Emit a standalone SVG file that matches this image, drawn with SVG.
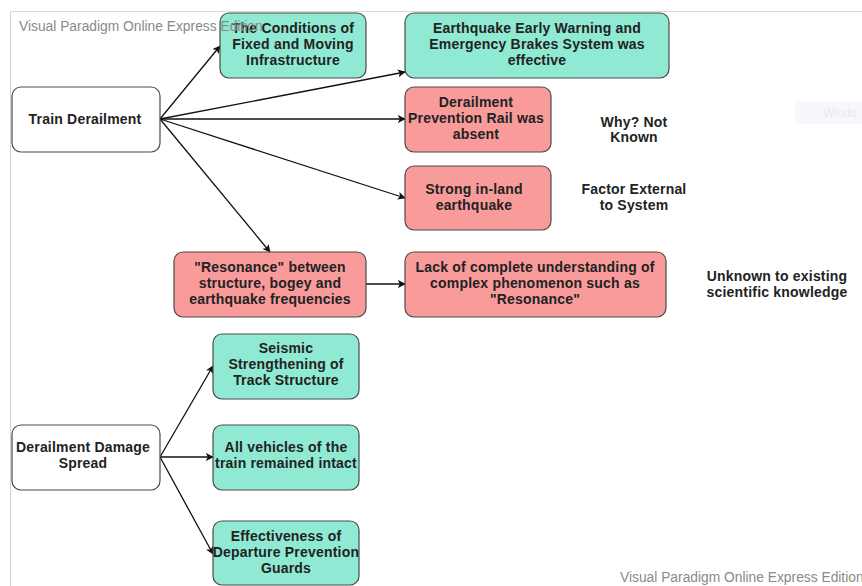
<svg xmlns="http://www.w3.org/2000/svg" width="862" height="586" viewBox="0 0 862 586">
  <style>
    .box { stroke: #4a4a4a; stroke-width: 1.2; }
    .plain { fill: #ffffff; }
    .good { fill: #8fe9d3; }
    .bad { fill: #f99b9b; }
    .t { font-family: "Liberation Sans", Arial, sans-serif; font-size: 14px; letter-spacing: 0.2px; font-weight: bold; fill: #222; text-anchor: middle; }
    .note { font-family: "Liberation Sans", Arial, sans-serif; font-size: 14px; letter-spacing: 0.2px; font-weight: bold; fill: #222; text-anchor: middle; }
    .wm { font-family: "Liberation Sans", Arial, sans-serif; font-size: 13.8px; fill: #8a8a8a; }
    .edge { stroke: #111; stroke-width: 1.3; fill: none; marker-end: url(#arrow); }
  </style>
  <defs>
    <marker id="arrow" viewBox="0 0 10 10" refX="9" refY="5" markerWidth="8" markerHeight="8" markerUnits="userSpaceOnUse" orient="auto">
      <path d="M0,0 L10,5 L0,10 L2.5,5 z" fill="#111"/>
    </marker>
  </defs>

  <rect x="0" y="0" width="862" height="586" fill="#ffffff"/>
  <!-- canvas frame -->
  <line x1="10.5" y1="11.5" x2="862" y2="11.5" stroke="#d8d8d8" stroke-width="1"/>
  <line x1="10.5" y1="11.5" x2="10.5" y2="586" stroke="#d0d0d0" stroke-width="1"/>

  <rect x="795" y="101" width="70" height="23" fill="#f6f8fc"/>
  <text x="823" y="117" font-family="'Liberation Sans', Arial, sans-serif" font-size="12" fill="#e8ebf0">Windo</text>

  <g id="connectors">
    <line class="edge" x1="160" y1="119" x2="220" y2="46"/>
    <line class="edge" x1="160" y1="119" x2="405" y2="72"/>
    <line class="edge" x1="160" y1="119" x2="405" y2="119"/>
    <line class="edge" x1="160" y1="119" x2="405" y2="198"/>
    <line class="edge" x1="160" y1="119" x2="270" y2="252"/>
    <line class="edge" x1="366" y1="284" x2="405" y2="284"/>
    <line class="edge" x1="160" y1="457" x2="213" y2="366"/>
    <line class="edge" x1="160" y1="457" x2="213" y2="457"/>
    <line class="edge" x1="160" y1="457" x2="213" y2="554"/>
  </g>

  <g id="train-derailment">
    <rect class="box plain" x="12" y="87" width="148" height="65" rx="9"/>
    <text class="t" x="85" y="124">Train Derailment</text>
  </g>

  <g id="infrastructure">
    <rect class="box good" x="220" y="13" width="146" height="65" rx="9"/>
    <text class="t" x="293" y="33">The Conditions of</text>
    <text class="t" x="293" y="49">Fixed and Moving</text>
    <text class="t" x="293" y="65">Infrastructure</text>
  </g>

  <g id="early-warning">
    <rect class="box good" x="405" y="13" width="264" height="65" rx="9"/>
    <text class="t" x="537" y="33">Earthquake Early Warning and</text>
    <text class="t" x="537" y="49">Emergency Brakes System was</text>
    <text class="t" x="537" y="65">effective</text>
  </g>

  <g id="prevention-rail">
    <rect class="box bad" x="405" y="87" width="146" height="65" rx="9"/>
    <text class="t" x="476" y="107">Derailment</text>
    <text class="t" x="476" y="123">Prevention Rail was</text>
    <text class="t" x="476" y="139">absent</text>
  </g>

  <g id="note-why">
    <text class="note" x="634" y="127">Why? Not</text>
    <text class="note" x="634" y="142">Known</text>
  </g>

  <g id="earthquake">
    <rect class="box bad" x="405" y="166" width="146" height="64" rx="9"/>
    <text class="t" x="474" y="194">Strong in-land</text>
    <text class="t" x="474" y="210">earthquake</text>
  </g>

  <g id="note-external">
    <text class="note" x="634" y="194">Factor External</text>
    <text class="note" x="634" y="210">to System</text>
  </g>

  <g id="resonance">
    <rect class="box bad" x="174" y="252" width="192" height="65" rx="9"/>
    <text class="t" x="270" y="272">"Resonance" between</text>
    <text class="t" x="270" y="288">structure, bogey and</text>
    <text class="t" x="270" y="304">earthquake frequencies</text>
  </g>

  <g id="understanding">
    <rect class="box bad" x="405" y="252" width="261" height="65" rx="9"/>
    <text class="t" x="535" y="272">Lack of complete understanding of</text>
    <text class="t" x="535" y="288">complex phenomenon such as</text>
    <text class="t" x="535" y="304">"Resonance"</text>
  </g>

  <g id="note-unknown">
    <text class="note" x="777" y="281">Unknown to existing</text>
    <text class="note" x="777" y="297">scientific knowledge</text>
  </g>

  <g id="damage-spread">
    <rect class="box plain" x="12" y="425" width="148" height="65" rx="9"/>
    <text class="t" x="83" y="452">Derailment Damage</text>
    <text class="t" x="83" y="468">Spread</text>
  </g>

  <g id="seismic">
    <rect class="box good" x="213" y="334" width="146" height="65" rx="9"/>
    <text class="t" x="286" y="353">Seismic</text>
    <text class="t" x="286" y="369">Strengthening of</text>
    <text class="t" x="286" y="385">Track Structure</text>
  </g>

  <g id="vehicles">
    <rect class="box good" x="213" y="425" width="146" height="65" rx="9"/>
    <text class="t" x="286" y="452">All vehicles of the</text>
    <text class="t" x="286" y="468">train remained intact</text>
  </g>

  <g id="guards">
    <rect class="box good" x="213" y="521" width="146" height="64" rx="9"/>
    <text class="t" x="286" y="541">Effectiveness of</text>
    <text class="t" x="286" y="557">Departure Prevention</text>
    <text class="t" x="286" y="573">Guards</text>
  </g>

  <!-- editor watermarks, drawn over the canvas -->
  <text class="wm" x="19" y="31">Visual Paradigm Online Express Edition</text>
  <text class="wm" x="620" y="582">Visual Paradigm Online Express Edition</text>
</svg>
